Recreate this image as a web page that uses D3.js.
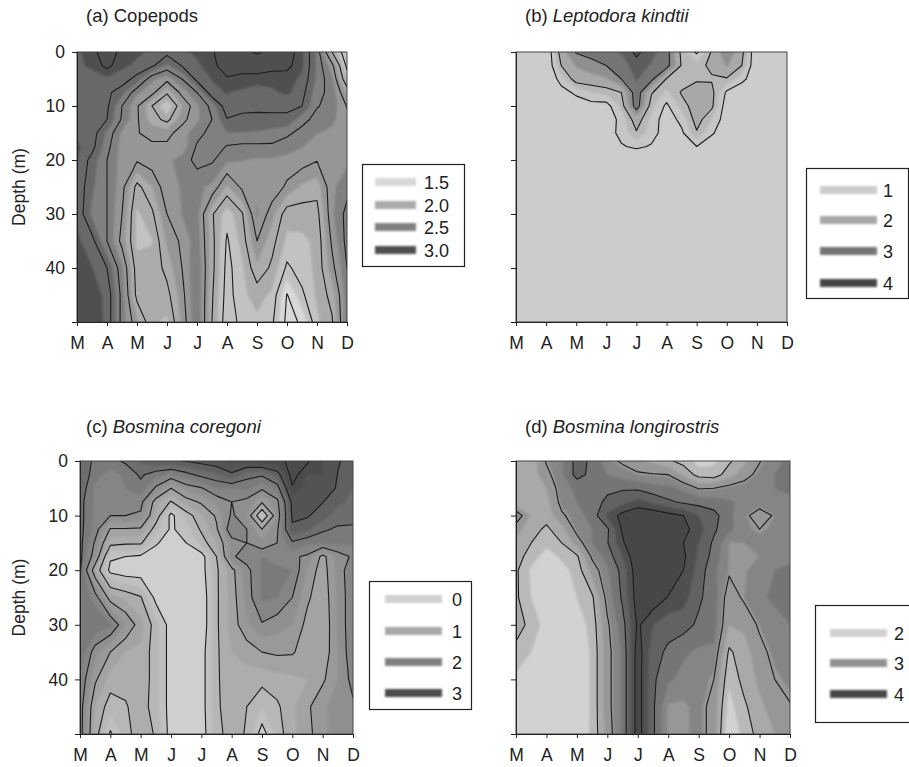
<!DOCTYPE html>
<html>
<head>
<meta charset="utf-8">
<script src="https://cdnjs.cloudflare.com/ajax/libs/d3/7.8.5/d3.min.js"></script>
<style>
  html, body { margin: 0; padding: 0; background: #fff; overflow: hidden; }
  svg { display: block; font-family: "Liberation Sans", Arial, sans-serif; fill: #222; }
</style>
</head>
<body>
<svg id="chart" width="909" height="767"></svg>
<script>
// Month labels and sampled depths (m). Grid columns are half months, M to D.
const months = ['M', 'A', 'M', 'J', 'J', 'A', 'S', 'O', 'N', 'D'];
const depths = [0, 2.5, 5, 7.5, 10, 12.5, 15, 17.5, 20, 25, 30, 35, 40, 45, 50];
const depthTicks = [0, 10, 20, 30, 40];

// One row per depth
const copepods = [
  [2.85, 2.95, 3.1, 2.95, 2.9, 2.85, 2.8, 2.85, 2.9, 2.98, 3.12, 3.2, 3.28, 3.2, 3.1, 2.9, 2.6, 2.0, 1.6],
  [2.85, 2.9, 3.05, 2.9, 2.85, 2.78, 2.6, 2.76, 2.85, 2.95, 3.1, 3.08, 3.08, 3.06, 3.05, 2.9, 2.6, 2.3, 1.7],
  [2.8, 2.82, 2.85, 2.82, 2.7, 2.4, 2.3, 2.5, 2.8, 2.88, 2.98, 2.95, 2.95, 2.92, 2.92, 2.85, 2.6, 2.4, 1.85],
  [2.78, 2.78, 2.78, 2.68, 2.4, 2.3, 2.03, 2.3, 2.5, 2.85, 2.88, 2.85, 2.78, 2.85, 2.9, 2.8, 2.55, 2.45, 2.1],
  [2.8, 2.8, 2.78, 2.5, 2.27, 2.0, 1.75, 2.12, 2.35, 2.55, 2.85, 2.83, 2.83, 2.82, 2.77, 2.75, 2.51, 2.45, 2.24],
  [2.85, 2.82, 2.75, 2.48, 2.27, 2.07, 1.95, 2.2, 2.35, 2.5, 2.74, 2.68, 2.66, 2.68, 2.73, 2.55, 2.45, 2.4, 2.3],
  [2.85, 2.82, 2.6, 2.35, 2.26, 2.2, 2.2, 2.32, 2.45, 2.55, 2.62, 2.62, 2.62, 2.6, 2.53, 2.45, 2.38, 2.35, 2.3],
  [2.9, 2.8, 2.55, 2.32, 2.28, 2.28, 2.28, 2.3, 2.52, 2.58, 2.49, 2.47, 2.47, 2.47, 2.43, 2.38, 2.33, 2.3, 2.3],
  [2.88, 2.7, 2.5, 2.32, 2.27, 2.33, 2.35, 2.42, 2.55, 2.52, 2.4, 2.38, 2.36, 2.36, 2.34, 2.32, 2.26, 2.32, 2.35],
  [2.85, 2.65, 2.5, 2.3, 1.95, 2.12, 2.35, 2.38, 2.4, 2.35, 2.1, 2.28, 2.35, 2.35, 2.22, 2.1, 2.05, 2.35, 2.45],
  [2.85, 2.6, 2.5, 2.25, 1.85, 1.97, 2.25, 2.38, 2.42, 2.02, 1.8, 1.98, 2.4, 2.17, 1.92, 1.93, 1.95, 2.35, 2.55],
  [2.9, 2.8, 2.5, 2.2, 1.85, 1.87, 2.15, 2.28, 2.45, 2.05, 1.73, 1.92, 2.25, 2.05, 1.85, 1.85, 1.9, 2.28, 2.55],
  [2.9, 2.88, 2.75, 2.4, 1.92, 1.9, 2.05, 2.25, 2.5, 2.05, 1.7, 1.85, 2.1, 1.97, 1.72, 1.82, 1.9, 2.2, 2.5],
  [2.95, 2.92, 2.85, 2.45, 1.95, 1.93, 1.95, 2.2, 2.5, 2.02, 1.68, 1.85, 1.92, 1.85, 1.49, 1.72, 1.9, 2.05, 2.45],
  [3.0, 2.95, 2.85, 2.45, 2.15, 1.9, 1.85, 2.15, 2.5, 2.0, 1.65, 1.8, 1.85, 1.78, 1.45, 1.52, 1.85, 1.98, 2.45]
];

const leptodora = [
  [.5, .5, .5, 2.0, 2.8, 2.95, 3.1, 3.3, 3.9, 3.4, 3.0, 1.6, .9, 1.8, 2.6, 1.9, .5, .5, .5],
  [.5, .5, .5, 1.75, 2.3, 2.55, 2.75, 3.0, 3.5, 3.2, 3.0, 1.7, 1.6, 1.85, 2.3, 1.75, .5, .5, .5],
  [.5, .5, .5, 1.2, 2.0, 2.05, 2.2, 2.75, 3.3, 2.9, 1.7, 1.5, 1.7, 1.7, 1.7, 1.2, .5, .5, .5],
  [.5, .5, .5, .8, 1.1, 1.4, 1.5, 1.75, 3.1, 1.8, 1.3, 1.8, 1.95, 1.9, .9, .5, .5, .5, .5],
  [.5, .5, .5, .5, .7, .8, .8, 1.5, 3.05, 1.5, .9, 1.55, 2.0, 1.85, .7, .5, .5, .5, .5],
  [.5, .5, .5, .5, .5, .5, .6, 1.2, 2.0, 1.3, .7, 1.15, 1.95, 1.4, .7, .5, .5, .5, .5],
  [.5, .5, .5, .5, .5, .5, .75, 1.15, 1.7, 1.2, .75, .9, 1.7, 1.1, .5, .5, .5, .5, .5],
  [.5, .5, .5, .5, .5, .5, .7, .95, 1.1, .95, .7, .5, 1.0, .5, .5, .5, .5, .5, .5],
  [.5, .5, .5, .5, .5, .5, .5, .5, .5, .5, .5, .5, .5, .5, .5, .5, .5, .5, .5],
  [.5, .5, .5, .5, .5, .5, .5, .5, .5, .5, .5, .5, .5, .5, .5, .5, .5, .5, .5],
  [.5, .5, .5, .5, .5, .5, .5, .5, .5, .5, .5, .5, .5, .5, .5, .5, .5, .5, .5],
  [.5, .5, .5, .5, .5, .5, .5, .5, .5, .5, .5, .5, .5, .5, .5, .5, .5, .5, .5],
  [.5, .5, .5, .5, .5, .5, .5, .5, .5, .5, .5, .5, .5, .5, .5, .5, .5, .5, .5],
  [.5, .5, .5, .5, .5, .5, .5, .5, .5, .5, .5, .5, .5, .5, .5, .5, .5, .5, .5],
  [.5, .5, .5, .5, .5, .5, .5, .5, .5, .5, .5, .5, .5, .5, .5, .5, .5, .5, .5]
];

const coregoni = [
  [2.4, 2.2, 2.15, 2.3, 2.55, 2.7, 2.72, 2.76, 2.85, 2.95, 3.05, 3.1, 3.15, 3.2, 3.3, 3.3, 3.0, 2.78, 2.6],
  [2.5, 2.1, 1.9, 2.05, 2.3, 2.1, 1.95, 2.15, 2.35, 2.45, 2.7, 2.35, 2.3, 2.6, 3.4, 3.0, 3.0, 2.74, 2.55],
  [2.45, 1.95, 1.75, 2.0, 2.15, 1.7, 1.25, 1.6, 1.72, 2.0, 2.0, 2.05, 1.8, 2.1, 3.2, 2.85, 2.9, 2.72, 2.5],
  [2.35, 1.95, 1.85, 1.9, 1.85, 1.1, .72, 1.1, 1.3, 1.55, 1.75, 1.65, 1.3, 1.65, 2.85, 2.8, 2.76, 2.55, 2.45],
  [2.35, 1.95, 1.75, 1.75, 1.7, .95, .15, .6, .95, 1.3, 1.8, 1.55, .3, 1.55, 2.8, 2.78, 2.6, 2.4, 2.35],
  [2.35, 1.9, 1.22, 1.22, 1.2, .6, .2, .4, .8, 1.2, 2.0, 1.75, 1.25, 1.7, 2.7, 2.55, 2.3, 2.2, 2.2],
  [2.35, 1.7, .85, .8, .8, .3, .05, .25, .6, 1.0, 1.6, 1.75, 1.55, 1.75, 2.2, 2.05, 2.05, 2.05, 2.05],
  [2.35, 1.55, .3, .25, .2, .05, 0, .05, .1, .75, 1.7, 1.9, 2.0, 1.9, 1.8, 1.7, 1.15, 1.6, 1.8],
  [2.3, 1.0, .15, .05, .05, 0, 0, 0, .1, .7, 1.15, 1.65, 2.05, 2.05, 2.0, 1.45, 1.1, 1.6, 1.95],
  [2.2, 1.9, 1.1, .95, .78, .15, 0, 0, 0, .7, 1.1, 1.6, 2.05, 2.0, 1.75, 1.3, 1.05, 1.55, 1.95],
  [2.2, 2.2, 2.05, 1.5, 1.1, .6, .1, 0, 0, .7, 1.1, 1.45, 1.72, 1.6, 1.5, 1.15, 1.0, 1.55, 1.95],
  [2.2, 1.6, 1.25, 1.0, .95, .6, .1, 0, .1, .7, 1.0, 1.1, 1.25, 1.3, 1.28, 1.1, 1.05, 1.5, 1.95],
  [2.0, 1.3, .9, .85, .95, .6, .1, 0, .1, .7, .95, .9, .85, .9, .95, 1.0, 1.2, 1.5, 1.85],
  [1.9, 1.0, .6, .72, .9, .6, .1, 0, .1, .7, .9, .75, .5, .7, .95, 1.2, 1.45, 1.6, 1.7],
  [1.9, .9, .2, .65, .9, .72, .1, 0, .1, .6, .95, .7, .1, .6, .95, 1.15, 1.45, 1.6, 1.7]
];

const longirostris = [
  [2.6, 2.6, 3.03, 3.2, 3.6, 3.45, 3.1, 2.95, 2.8, 2.7, 2.55, 2.4, 2.15, 2.2, 2.45, 2.7, 2.98, 3.2, 3.3],
  [2.6, 2.6, 2.92, 3.2, 3.6, 3.42, 3.25, 3.15, 3.05, 3.02, 3.0, 2.7, 2.4, 2.35, 2.65, 2.88, 3.1, 3.25, 3.3],
  [2.6, 2.6, 2.75, 3.15, 3.3, 3.4, 3.45, 3.47, 3.45, 3.35, 3.3, 3.2, 2.98, 3.0, 3.1, 3.15, 3.2, 3.25, 3.3],
  [2.6, 2.6, 2.65, 3.1, 3.25, 3.4, 3.55, 3.65, 3.85, 3.7, 3.55, 3.45, 3.4, 3.35, 3.28, 3.2, 3.2, 3.2, 3.2],
  [3.2, 2.72, 2.6, 2.95, 3.15, 3.35, 3.8, 4.1, 4.2, 4.2, 4.1, 4.0, 3.75, 3.6, 3.3, 3.1, 2.8, 3.05, 3.15],
  [2.85, 2.6, 2.45, 2.65, 3.1, 3.25, 3.45, 4.05, 4.4, 4.4, 4.35, 4.1, 3.85, 3.55, 3.3, 3.1, 3.0, 3.1, 3.15],
  [2.7, 2.5, 2.35, 2.5, 2.85, 3.25, 3.48, 3.95, 4.4, 4.4, 4.35, 4.0, 3.75, 3.45, 3.04, 3.05, 3.15, 3.15, 3.15],
  [2.6, 2.4, 2.1, 2.3, 2.45, 3.05, 3.35, 3.75, 4.25, 4.35, 4.3, 4.05, 3.7, 3.4, 3.04, 3.04, 3.05, 3.15, 3.2],
  [2.55, 2.2, 2.0, 2.15, 2.35, 2.85, 3.2, 3.6, 4.2, 4.3, 4.25, 4.0, 3.65, 3.3, 3.04, 3.04, 3.1, 3.25, 3.3],
  [2.55, 2.25, 2.05, 2.2, 2.25, 2.45, 3.1, 3.55, 4.15, 4.2, 3.98, 3.85, 3.55, 3.35, 2.85, 3.05, 3.2, 3.3, 3.3],
  [2.65, 2.4, 2.15, 2.15, 2.1, 2.35, 2.95, 3.4, 4.05, 3.75, 3.6, 3.6, 3.45, 3.35, 2.75, 2.8, 3.05, 3.15, 3.25],
  [2.4, 2.25, 2.2, 2.15, 2.0, 2.3, 2.9, 3.3, 4.15, 3.6, 3.45, 3.3, 3.2, 3.2, 2.45, 2.65, 2.9, 3.1, 3.2],
  [2.2, 2.2, 2.2, 2.1, 2.0, 2.3, 2.9, 3.3, 4.15, 3.55, 3.3, 3.15, 3.15, 3.0, 2.3, 2.6, 2.8, 3.0, 3.1],
  [1.95, 2.05, 2.2, 2.1, 2.0, 2.3, 2.9, 3.3, 4.15, 3.55, 3.02, 3.02, 3.1, 2.9, 2.15, 2.45, 2.7, 2.85, 2.98],
  [1.9, 2.05, 2.2, 2.1, 2.05, 2.3, 2.85, 3.3, 4.15, 3.55, 3.02, 3.02, 3.1, 2.9, 2.0, 2.35, 2.6, 2.75, 2.9]
];

// Legend entries and the grey each one stands for
const copepodLegend = [1.5, 2, 2.5, 3];
const copepodLabels = ['1.5', '2.0', '2.5', '3.0'];
const copepodGreys = ['#d8d8d8', '#ababab', '#808080', '#505050'];
const leptodoraLegend = [1, 2, 3, 4];
const leptodoraGreys = ['#cccccc', '#a8a8a8', '#757575', '#444444'];
const coregoniLegend = [0, 1, 2, 3];
const coregoniGreys = ['#cfcfcf', '#a8a8a8', '#808080', '#4c4c4c'];
const longirostrisLegend = [2, 3, 4];
const longirostrisGreys = ['#d2d2d2', '#909090', '#474747'];

// Contour levels: fills are finer than the black lines
const copepodLines = [1.5, 1.75, 2, 2.25, 2.5, 2.75, 3, 3.25];
const copepodFills = [1.625, 1.875, 2.125, 2.375, 2.625, 2.875, 3.125];
const leptodoraLines = [1, 1.75, 2.75, 3.75];
const leptodoraFills = [.95, 1.4, 1.75, 2.25, 2.75, 3.25, 3.75];
const coregoniLines = [.25, .75, 1.25, 1.75, 2.25, 2.75, 3.25];
const coregoniFills = [.25, .5, .75, 1, 1.25, 1.5, 1.75, 2, 2.25, 2.5, 2.75, 3, 3.25];
const longirostrisLines = [2.5, 3, 3.5, 4];
const longirostrisFills = [2.25, 2.5, 2.75, 3.05, 3.25, 3.5, 3.75, 4];

const panels = [
  { title: '(a) ', name: 'Copepods', italic: false, grid: copepods, lines: copepodLines, fills: copepodFills,
    legend: copepodLegend, labels: copepodLabels, greys: copepodGreys,
    left: 77, right: 347, top: 52, bottom: 322, depthAxis: true, titleX: 86, titleY: 22,
    box: [362, 164, 102, 102], swatchX: [375, 416], swatchY: [182, 205, 227, 250], textX: 424 },
  { title: '(b) ', name: 'Leptodora kindtii', italic: true, grid: leptodora, lines: leptodoraLines, fills: leptodoraFills,
    legend: leptodoraLegend, labels: leptodoraLegend, greys: leptodoraGreys,
    left: 516, right: 787, top: 52, bottom: 322, depthAxis: false, titleX: 525, titleY: 22,
    box: [806, 168, 102, 130], swatchX: [820, 877], swatchY: [190, 220, 251, 283], textX: 883 },
  { title: '(c) ', name: 'Bosmina coregoni', italic: true, grid: coregoni, lines: coregoniLines, fills: coregoniFills,
    legend: coregoniLegend, labels: coregoniLegend, greys: coregoniGreys,
    left: 80, right: 353, top: 461, bottom: 734, depthAxis: true, titleX: 86, titleY: 433,
    box: [369, 581, 102, 128], swatchX: [385, 442], swatchY: [599, 631, 662, 693], textX: 452 },
  { title: '(d) ', name: 'Bosmina longirostris', italic: true, grid: longirostris, lines: longirostrisLines, fills: longirostrisFills,
    legend: longirostrisLegend, labels: longirostrisLegend, greys: longirostrisGreys,
    left: 516, right: 790, top: 461, bottom: 734, depthAxis: false, titleX: 525, titleY: 433,
    box: [815, 605, 110, 117], swatchX: [830, 887], swatchY: [633, 663, 694], textX: 894 }
];

const labelFont = 17.5;

const svg = d3.select('#chart');
const defs = svg.append('defs');
defs.append('filter').attr('id', 'soft').attr('x', '-10%').attr('y', '-100%').attr('width', '120%').attr('height', '300%')
  .append('feGaussianBlur').attr('stdDeviation', 0.9);
defs.append('filter').attr('id', 'softer').attr('x', '-5%').attr('y', '-5%').attr('width', '110%').attr('height', '110%')
  .append('feGaussianBlur').attr('stdDeviation', 0.3);

panels.forEach((p, idx) => {
  const rows = p.grid.length;
  const cols = p.grid[0].length;
  const values = p.grid.flat();

  const x = d3.scaleLinear().domain([0, months.length - 1]).range([p.left, p.right]);
  const y = d3.scaleLinear().domain([0, 50]).range([p.top, p.bottom]);
  const rowDepth = d3.scaleLinear().domain(depths.map((d, i) => i + 0.5)).range(depths);
  const grey = d3.scaleLinear().domain(p.legend).range(p.greys).clamp(true);

  // d3.contours puts grid values at cell centres
  const project = d3.geoTransform({
    point(cx, cy) {
      this.stream.point(x((cx - 0.5) / 2), y(rowDepth(cy)));
    }
  });
  const path = d3.geoPath(project);
  const contours = d3.contours().size([cols, rows]);

  const clipId = `clip-${idx}`;
  defs.append('clipPath').attr('id', clipId).append('rect')
    .attr('x', p.left).attr('y', p.top)
    .attr('width', p.right - p.left).attr('height', p.bottom - p.top);

  const plot = svg.append('g').attr('clip-path', `url(#${clipId})`);
  const fillGroup = plot.append('g').attr('filter', 'url(#soft)');

  // Base band, then each higher band painted over it
  const bands = [p.fills[0] - 0.25].concat(p.fills);
  fillGroup.append('rect')
    .attr('x', p.left - 5).attr('y', p.top - 5)
    .attr('width', p.right - p.left + 10).attr('height', p.bottom - p.top + 10)
    .attr('fill', grey(bands[0]));

  fillGroup.selectAll('path')
    .data(contours.thresholds(p.fills)(values))
    .join('path')
    .attr('d', path)
    .attr('fill', d => {
      const i = p.fills.indexOf(d.value);
      const next = i + 1 < p.fills.length ? p.fills[i + 1] : d.value + 0.25;
      return grey((d.value + next) / 2);
    });

  plot.append('g').attr('filter', 'url(#softer)')
    .selectAll('path')
    .data(contours.thresholds(p.lines)(values))
    .join('path')
    .attr('d', path)
    .attr('fill', 'none')
    .attr('stroke', '#1c1c1c')
    .attr('stroke-width', 1.1)
    .attr('stroke-linejoin', 'round');

  // Frame
  svg.append('rect')
    .attr('x', p.left).attr('y', p.top)
    .attr('width', p.right - p.left).attr('height', p.bottom - p.top)
    .attr('fill', 'none').attr('stroke', '#444').attr('stroke-width', 1);

  // Axes
  const xAxis = d3.axisBottom(x)
    .tickValues(d3.range(months.length))
    .tickSize(4).tickPadding(11)
    .tickFormat(i => months[i]);
  const gx = svg.append('g')
    .attr('transform', `translate(0,${p.bottom})`)
    .call(xAxis);
  gx.selectAll('text').attr('font-size', labelFont).attr('fill', '#222').attr('font-family', '"Liberation Sans", Arial, sans-serif');
  gx.selectAll('line, path').attr('stroke', '#222');

  const yAxis = d3.axisLeft(y)
    .tickValues(depthTicks)
    .tickSize(5).tickPadding(7)
    .tickFormat(d => p.depthAxis ? d : '');
  const gy = svg.append('g')
    .attr('transform', `translate(${p.left},0)`)
    .call(yAxis);
  gy.selectAll('text').attr('font-size', labelFont).attr('fill', '#222').attr('font-family', '"Liberation Sans", Arial, sans-serif');
  gy.selectAll('line, path').attr('stroke', '#222');

  if (p.depthAxis) {
    svg.append('text')
      .attr('transform', `translate(25,${(p.top + p.bottom) / 2}) rotate(-90)`)
      .attr('text-anchor', 'middle')
      .attr('font-size', labelFont)
      .attr('fill', '#222')
      .text('Depth (m)');
  }

  // Panel title
  const title = svg.append('text')
    .attr('x', p.titleX)
    .attr('y', p.titleY)
    .attr('font-size', 18.5)
    .attr('fill', '#222');
  title.append('tspan').text(p.title);
  title.append('tspan').attr('font-style', p.italic ? 'italic' : 'normal').text(p.name);

  // Legend box
  svg.append('rect')
    .attr('x', p.box[0] + 0.5).attr('y', p.box[1] + 0.5)
    .attr('width', p.box[2]).attr('height', p.box[3])
    .attr('fill', '#fff').attr('stroke', '#222').attr('stroke-width', 1.2);

  const legend = svg.append('g');
  legend.selectAll('rect')
    .data(p.legend)
    .join('rect')
    .attr('x', p.swatchX[0])
    .attr('y', (d, i) => p.swatchY[i] - 4)
    .attr('width', p.swatchX[1] - p.swatchX[0])
    .attr('height', 8)
    .attr('fill', d => grey(d))
    .attr('filter', 'url(#soft)');
  legend.selectAll('text')
    .data(p.labels)
    .join('text')
    .attr('x', p.textX)
    .attr('y', (d, i) => p.swatchY[i] + 7)
    .attr('font-size', 18)
    .attr('fill', '#222')
    .text(d => d);
});
</script>
</body>
</html>
